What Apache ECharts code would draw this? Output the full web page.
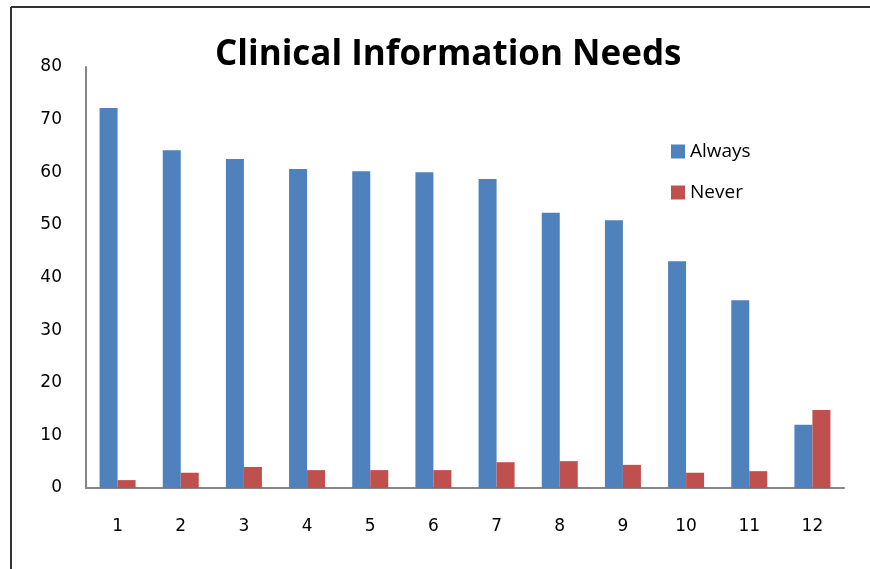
<!DOCTYPE html>
<html>
<head>
<meta charset="utf-8">
<script src="https://cdn.jsdelivr.net/npm/echarts@6/dist/echarts.min.js"></script>
<style>
  html, body { margin: 0; padding: 0; background: #fff; }
  #chart { width: 870px; height: 569px; }
</style>
</head>
<body>
<div id="chart"></div>
<script>
  // categories and values
  var categories = ['1', '2', '3', '4', '5', '6', '7', '8', '9', '10', '11', '12']
  var alwaysValues = [72.2, 64.2, 62.5, 60.6, 60.2, 60.0, 58.7, 52.3, 50.9, 43.1, 35.7, 12.0]
  var neverValues = [1.5, 2.9, 4.0, 3.4, 3.4, 3.4, 4.9, 5.1, 4.4, 2.9, 3.2, 14.8]
  var yTicks = [0, 10, 20, 30, 40, 50, 60, 70, 80]

  var chart = echarts.init(document.getElementById('chart'))
  chart.setOption({
    animation: false,
    title: {
      text: 'Clinical Information Needs',
      left: 210,
      top: 33,
      textStyle: {
        fontFamily: 'Open Sans',
        fontWeight: 'bold',
        fontSize: 35,
        color: '#000'
      }
    },
    legend: {
      orient: 'vertical',
      left: 666,
      top: 137,
      itemWidth: 14,
      itemHeight: 14,
      itemGap: 22,
      icon: 'rect',
      textStyle: { fontFamily: 'Open Sans', fontSize: 19, color: '#000' },
      data: ['Always', 'Never']
    },
    grid: { left: 86, right: 26, top: 67, bottom: 81 },
    color: ['#4f81bd', '#c0504d'],
    xAxis: {
      type: 'category',
      data: categories,
      axisLine: { lineStyle: { color: '#868686', width: 2 } },
      axisTick: { show: false },
      axisLabel: { fontFamily: 'DejaVu Sans', fontSize: 17, color: '#000', margin: 30 }
    },
    yAxis: {
      type: 'value',
      min: yTicks[0],
      max: yTicks[yTicks.length - 1],
      interval: 10,
      axisLine: { show: true, lineStyle: { color: '#868686', width: 2 } },
      axisTick: { show: false },
      splitLine: { show: false },
      axisLabel: { fontFamily: 'DejaVu Sans', fontSize: 17, color: '#000', margin: 24 }
    },
    graphic: [
      { type: 'line', shape: { x1: 11, y1: 7, x2: 870, y2: 7 }, style: { stroke: '#333', lineWidth: 2 } },
      { type: 'line', shape: { x1: 11, y1: 7, x2: 11, y2: 569 }, style: { stroke: '#333', lineWidth: 2 } }
    ],
    series: [
      { name: 'Always', type: 'bar', data: alwaysValues, barGap: '0%', barCategoryGap: '43%' },
      { name: 'Never', type: 'bar', data: neverValues, barGap: '0%', barCategoryGap: '43%' }
    ]
  })
</script>
</body>
</html>
